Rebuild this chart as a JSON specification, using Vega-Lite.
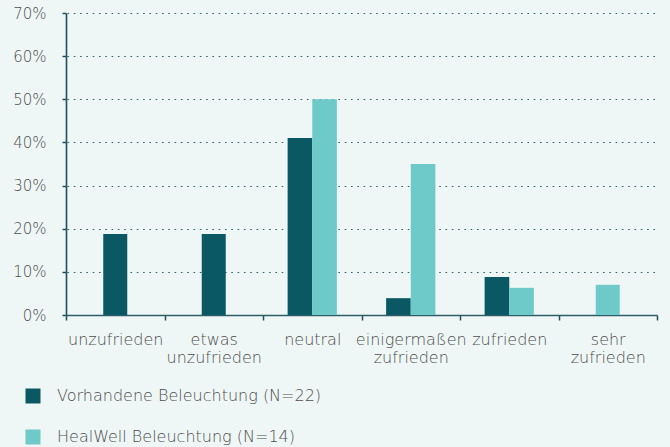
{
  "$schema": "https://vega.github.io/schema/vega-lite/v6.json",
  "width": 591,
  "height": 302,
  "autosize": {"type": "none"},
  "padding": {"left": 66, "top": 13, "right": 13, "bottom": 132},
  "background": "#eff7f6",
  "config": {
    "view": {"stroke": null},
    "font": "DejaVu Sans",
    "axis": {"labelFont": "DejaVu Sans", "labelColor": "#4d4d4d", "labelFontSize": 16, "labelFontWeight": 200}
  },
  "data": {
    "values": [
      {"Kategorie": "unzufrieden", "Gruppe": "Vorhandene Beleuchtung (N=22)", "Anteil": 0.188},
      {"Kategorie": "etwas unzufrieden", "Gruppe": "Vorhandene Beleuchtung (N=22)", "Anteil": 0.188},
      {"Kategorie": "neutral", "Gruppe": "Vorhandene Beleuchtung (N=22)", "Anteil": 0.41},
      {"Kategorie": "neutral", "Gruppe": "HealWell Beleuchtung (N=14)", "Anteil": 0.50},
      {"Kategorie": "einigermaßen zufrieden", "Gruppe": "Vorhandene Beleuchtung (N=22)", "Anteil": 0.039},
      {"Kategorie": "einigermaßen zufrieden", "Gruppe": "HealWell Beleuchtung (N=14)", "Anteil": 0.35},
      {"Kategorie": "zufrieden", "Gruppe": "Vorhandene Beleuchtung (N=22)", "Anteil": 0.088},
      {"Kategorie": "zufrieden", "Gruppe": "HealWell Beleuchtung (N=14)", "Anteil": 0.063},
      {"Kategorie": "sehr zufrieden", "Gruppe": "HealWell Beleuchtung (N=14)", "Anteil": 0.07}
    ]
  },
  "encoding": {
    "x": {
      "field": "Kategorie",
      "type": "nominal",
      "sort": ["unzufrieden", "etwas unzufrieden", "neutral", "einigermaßen zufrieden", "zufrieden", "sehr zufrieden"],
      "scale": {"domain": ["unzufrieden", "etwas unzufrieden", "neutral", "einigermaßen zufrieden", "zufrieden", "sehr zufrieden"], "paddingInner": 0, "paddingOuter": 0},
      "title": null,
      "axis": {
        "labelAngle": 0,
        "labelExpr": "split(datum.label, ' ')",
        "labelLineHeight": 18,
        "labelBaseline": "top",
        "labelPadding": 11,
        "labelLimit": 200,
        "labelOverlap": false,
        "tickBand": "extent",
        "tickSize": 5,
        "tickColor": "#1e4f5a",
        "tickWidth": 1.5,
        "domainColor": "#2f5d67",
        "domainWidth": 1.6,
        "grid": false
      }
    },
    "y": {
      "field": "Anteil",
      "type": "quantitative",
      "scale": {"domain": [0, 0.7]},
      "title": null,
      "axis": {
        "values": [0, 0.1, 0.2, 0.3, 0.4, 0.5, 0.6, 0.7],
        "format": ".0%",
        "labelFontSize": 15,
        "tickSize": 4,
        "tickColor": "#1e4f5a",
        "tickWidth": 1.5,
        "labelPadding": 16,
        "domainColor": "#1e4f5a",
        "domainWidth": 1.6,
        "grid": true,
        "gridColor": "#2c5f6a",
        "gridDash": [1.6, 4.7],
        "gridWidth": 1.2,
        "gridDashOffset": -1
      }
    },
    "color": {
      "field": "Gruppe",
      "type": "nominal",
      "scale": {
        "domain": ["Vorhandene Beleuchtung (N=22)", "HealWell Beleuchtung (N=14)"],
        "range": ["#0a5864", "#6ecac8"]
      },
      "legend": {
        "orient": "none",
        "legendX": -41,
        "legendY": 375,
        "direction": "vertical",
        "title": null,
        "symbolType": "square",
        "symbolSize": 225,
        "symbolStrokeWidth": 0,
        "symbolOpacity": 1,
        "labelFontSize": 16,
        "labelFontWeight": 200,
        "labelColor": "#4d4d4d",
        "labelFont": "DejaVu Sans",
        "labelLimit": 500,
        "labelOffset": 16,
        "rowPadding": 25,
        "padding": 0
      }
    }
  },
  "layer": [
    {
      "transform": [{"filter": {"field": "Kategorie", "oneOf": ["neutral", "einigermaßen zufrieden", "zufrieden"]}}],
      "mark": {"type": "bar"},
      "encoding": {
        "xOffset": {
          "field": "Gruppe",
          "type": "nominal",
          "sort": ["Vorhandene Beleuchtung (N=22)", "HealWell Beleuchtung (N=14)"],
          "scale": {"domain": ["Vorhandene Beleuchtung (N=22)", "HealWell Beleuchtung (N=14)"], "paddingInner": 0, "paddingOuter": 1.05}
        }
      }
    },
    {
      "transform": [{"filter": {"field": "Kategorie", "oneOf": ["unzufrieden", "etwas unzufrieden", "sehr zufrieden"]}}],
      "mark": {"type": "bar", "width": {"band": 0.2437}},
      "encoding": {}
    }
  ]
}
